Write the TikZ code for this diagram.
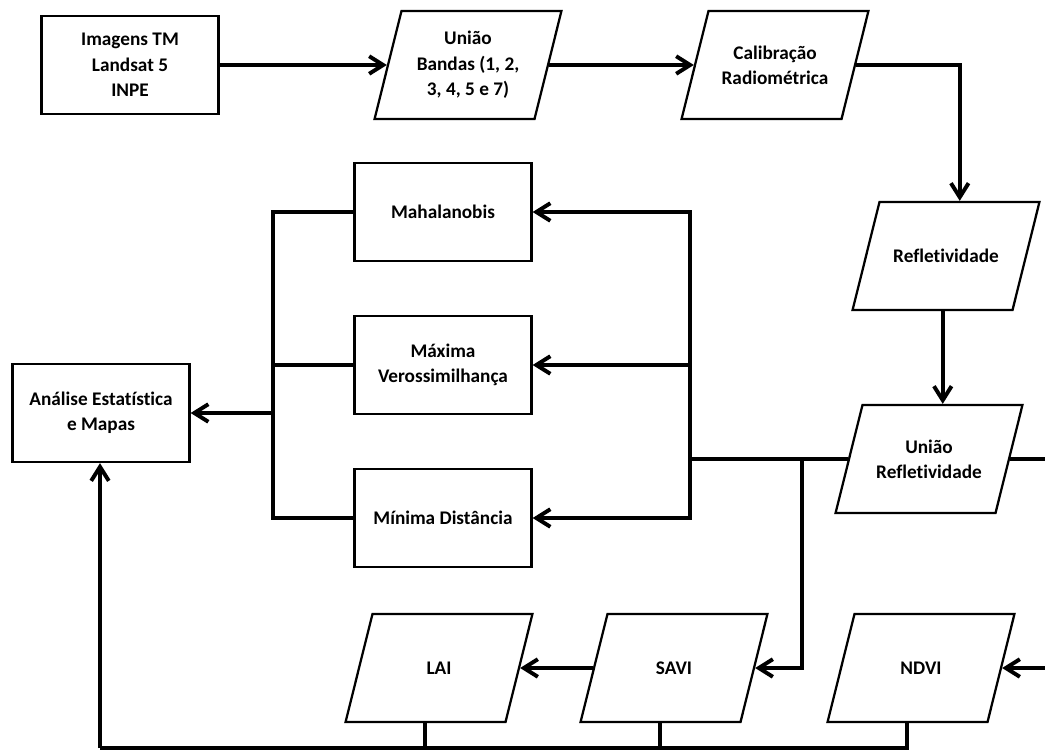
\documentclass[tikz,border=0pt]{standalone}
\usepackage{fontspec}
\setmainfont{Carlito}[Ligatures=NoCommon]
\usetikzlibrary{shapes.geometric, arrows.meta}

\tikzset{
	box/.style = {draw, line width=1.6pt, minimum width=4.425cm, minimum height=2.45cm,
		align=center, font=\fontsize{13.7}{18}\selectfont\bfseries},
	para/.style = {draw, trapezium, trapezium left angle=76, trapezium right angle=104,
		line width=1.6pt, inner sep=0pt, font=\fontsize{13.7}{18}\selectfont\bfseries,
		execute at begin node={\begin{minipage}[c][2.7cm][c]{3.325cm}\centering},
		execute at end node={\end{minipage}}},
	line/.style = {line width=2.8pt},
	flow/.style = {line, -{Straight Barb[length=3.5mm, width=4.4mm]}}
}

\begin{document}
\begin{tikzpicture}[x=0.025cm, y=-0.025cm]
		\useasboundingbox (0,0) rectangle (1045,751);

		% top row
		\node [box] (img) at (130,65) {Imagens TM\\Landsat 5\\INPE};
		\node [para] (ub) at (468,65) {União\\Bandas (1, 2,\\3, 4, 5 e 7)};
		\node [para] (cal) at (775,65) {Calibração\\Radiométrica};

		% right column
		\node [para] (ref) at (946,256) {Refletividade};
		\node [para] (uref) at (929,459) {União\\Refletividade};

		% classifiers
		\node [box] (mah) at (443,212) {Mahalanobis};
		\node [box] (maxv) at (443,365) {Máxima\\Verossimilhança};
		\node [box] (mind) at (443,518) {Mínima Distância};

		\node [box] (ana) at (101,413) {Análise Estatística\\e Mapas};

		% indices
		\node [para] (lai) at (439,668) {LAI};
		\node [para] (savi) at (674,668) {SAVI};
		\node [para] (ndvi) at (921,668) {NDVI};

		\coordinate (jn) at (690,459);
		\coordinate (br) at (802,459);
		\coordinate (lj) at (273,413);
		\coordinate (bl) at (100,748);
		\coordinate (out) at (1045,459);
		\coordinate (in) at (1045,668);

		\draw [flow] (img) -- (ub);
		\draw [flow] (ub) -- (cal);
		\draw [flow] (cal.east) -| (ref.top side);
		\draw [flow] (ref.south -| uref.top side) -- (uref.top side);

		\draw [line] (uref.west) -- (jn);
		\draw [line] (uref.east) -- (out);
		\draw [flow] (jn) |- (mah);
		\draw [flow] (jn) |- (maxv);
		\draw [flow] (jn) |- (mind);
		\draw [flow] (br) |- (savi);

		\draw [line] (mah.west) -| (lj);
		\draw [line] (maxv.west) -| (lj);
		\draw [line] (mind.west) -| (lj);
		\draw [flow] (lj) -- (ana);

		\draw [flow] (in) -- (ndvi);
		\draw [flow] (savi) -- (lai);

		\draw [line] (ndvi.bottom side) |- (bl);
		\draw [line] (lai.bottom side) -- (lai.bottom side |- bl);
		\draw [line] (savi.bottom side) -- (savi.bottom side |- bl);
		\draw [flow] (bl) -- (bl |- ana.south);
	\end{tikzpicture}
\end{document}
